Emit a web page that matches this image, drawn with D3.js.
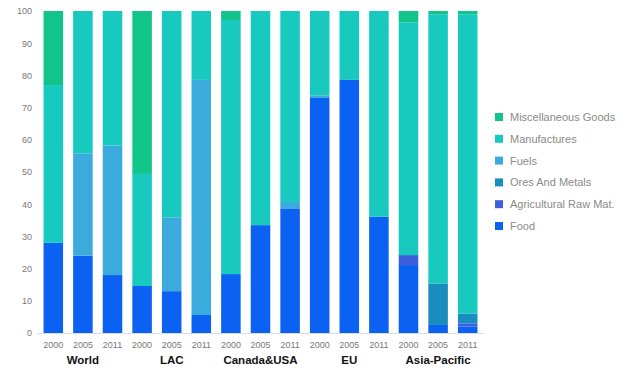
<!DOCTYPE html>
<html><head><meta charset="utf-8">
<script src="https://cdn.jsdelivr.net/npm/d3@7"></script>
<style>body{margin:0;background:#fff;}svg{display:block;font-family:"Liberation Sans",Arial,sans-serif;}</style>
</head><body><svg id="c" width="627" height="370"></svg>
<script>
const years = ["2000","2005","2011","2000","2005","2011","2000","2005","2011","2000","2005","2011","2000","2005","2011"];
const regions = ["World","LAC","Canada&USA","EU","Asia-Pacific"];
const seriesNames = ["Food","Agricultural Raw Mat.","Ores And Metals","Fuels","Manufactures","Miscellaneous Goods"];
const colors = ["#0b62f2","#3d5fdb","#1a8dc0","#3aabdc","#18c9c0","#13c48a"];
const food  = [28, 24, 18, 14.6, 13, 5.6, 18.3, 33.5, 38.7, 73, 78.6, 36.1, 21.1, 2.5, 2];
const agri  = [0, 0, 0, 0, 0, 0, 0, 0, 0, 0, 0, 0, 3.1, 0, 1];
const ores  = [0, 0, 0, 0, 0, 0, 0, 0, 0, 0, 0, 0, 0, 12.9, 3];
const fuels = [0, 31.8, 40.2, 0, 22.9, 73, 0, 0, 2, 0.8, 0, 0, 0, 0, 0];
const manuf = [49, 44.2, 41.8, 34.8, 64.1, 21.4, 78.9, 66.5, 59.3, 26.2, 21.4, 63.9, 72.3, 83.6, 93];
const misc  = [23, 0, 0, 50.6, 0, 0, 2.8, 0, 0, 0, 0, 0, 3.5, 1, 1];
const yTicks = [0,10,20,30,40,50,60,70,80,90,100];

const svg = d3.select("#c");
const idx = d3.range(years.length);
const x = d3.scaleBand().domain(idx).range([38.5, 482.5]).paddingInner(0.34).paddingOuter(0.17);
const y = d3.scaleLinear().domain([0,100]).range([333, 11]);

const rows = idx.map(i => ({i, Food: food[i], "Agricultural Raw Mat.": agri[i], "Ores And Metals": ores[i], Fuels: fuels[i], Manufactures: manuf[i], "Miscellaneous Goods": misc[i]}));
const stack = d3.stack().keys(seriesNames)(rows);

svg.append("g").selectAll("g").data(stack).join("g")
  .attr("fill", (d,k) => colors[k])
  .selectAll("rect").data(d => d).join("rect")
  .attr("x", d => x(d.data.i))
  .attr("width", x.bandwidth())
  .attr("y", d => y(Math.min(100, d[1])))
  .attr("height", d => Math.max(0, y(d[0]) - y(Math.min(100, d[1]))));

// y axis
const ya = svg.append("g").attr("transform","translate(38,0)")
  .call(d3.axisLeft(y).tickValues(yTicks).tickSize(0).tickPadding(6));
ya.select(".domain").remove();
ya.selectAll("text").attr("fill","#777").attr("font-size","9px").attr("font-family","'Liberation Sans',Arial,sans-serif");

// baseline
svg.append("line").attr("x1",38).attr("x2",484).attr("y1",y(0)+0.5).attr("y2",y(0)+0.5).attr("stroke","#dcdcdc");

// x axis
const xa = svg.append("g").attr("transform",`translate(0,${y(0)})`)
  .call(d3.axisBottom(x).tickFormat(i => years[i]).tickSize(0).tickPadding(9));
xa.select(".domain").remove();
xa.selectAll("text").attr("fill","#777").attr("font-size","9px").attr("font-family","'Liberation Sans',Arial,sans-serif");

// group labels
svg.append("g").selectAll("text").data(regions).join("text")
  .attr("x", (r,k) => x(k*3+1) + x.bandwidth()/2)
  .attr("y", 364)
  .attr("text-anchor","middle")
  .attr("font-size","11.5px").attr("font-weight","bold").attr("fill","#111")
  .text(d => d);

// legend
const legendOrder = seriesNames.map((n,k)=>({n, c: colors[k]})).reverse();
const lg = svg.append("g").selectAll("g").data(legendOrder).join("g")
  .attr("transform", (d,k) => `translate(495,${113 + k*21.8})`);
lg.append("rect").attr("width",8).attr("height",8).attr("fill", d => d.c);
lg.append("text").attr("x",15).attr("y",8).attr("font-size","11px").attr("fill","#8a8a8a").text(d => d.n);
</script></body></html>
